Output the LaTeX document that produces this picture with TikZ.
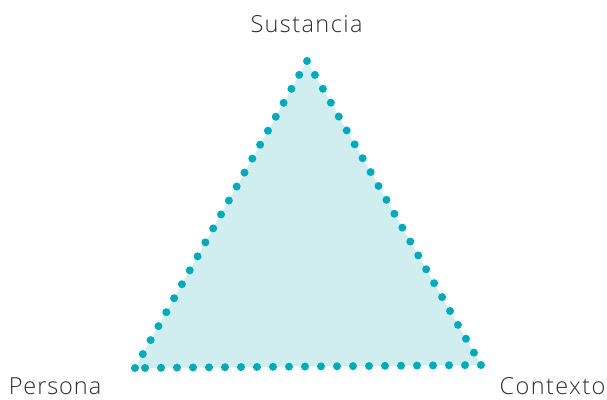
\documentclass[tikz,border=0pt]{standalone}
\usepackage{fontspec}
\setmainfont{Open Sans}[UprightFont=* Light,LetterSpace=6]
\definecolor{dotc}{HTML}{00A9BC}
\definecolor{fillc}{HTML}{D0EEF0}
\definecolor{txt}{HTML}{2E2E2E}
\begin{document}
\begin{tikzpicture}[x=1pt,y=-1pt,
  edge/.style={draw=dotc,line width=8pt,line cap=round,dash pattern=on 0pt off 16pt},
  lbl/.style={text=txt,font=\fontsize{23.5}{26}\selectfont,inner sep=0pt,anchor=base}]
\useasboundingbox (0,0) rectangle (607,399);
\coordinate (T) at (307,61);
\coordinate (R) at (481,365);
\coordinate (L) at (135,368);
\fill[fillc] (T) -- (R) -- (L) -- cycle;
\draw[edge] (T) -- (R);
\draw[edge] (R) -- (L);
\draw[edge] (L) -- (T);
\node[lbl] (s) at (306.5,32) {Sustancia};
\node[lbl] (p) at (55,394) {\addfontfeature{LetterSpace=4}Persona};
\node[lbl] (c) at (552.5,394) {Contexto};
\end{tikzpicture}
\end{document}
